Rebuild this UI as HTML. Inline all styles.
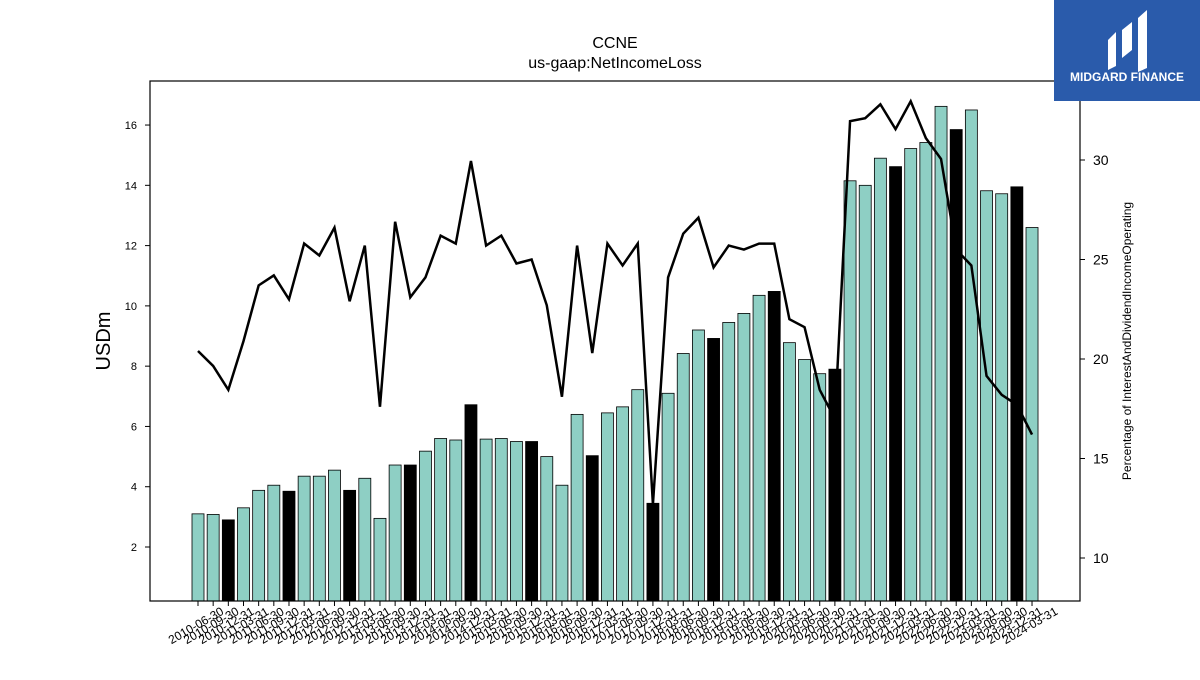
<!DOCTYPE html>
<html><head><meta charset="utf-8"><style>
body{margin:0;background:#fff;font-family:"Liberation Sans",sans-serif}
</style></head><body>
<svg id="chart" width="1200" height="675" xmlns="http://www.w3.org/2000/svg" font-family="Liberation Sans, sans-serif">
<text x="615" y="48" text-anchor="middle" font-size="16">CCNE</text>
<text x="615" y="68" text-anchor="middle" font-size="16">us-gaap:NetIncomeLoss</text>
<g id="bars"></g><g id="line"></g><g id="axes"></g>
<rect x="150" y="81" width="930" height="520" fill="none" stroke="#000" stroke-width="1.2"/>
<text transform="translate(110,341) rotate(-90)" text-anchor="middle" font-size="20">USDm</text>
<text transform="translate(1131,341) rotate(-90)" text-anchor="middle" font-size="12">Percentage of InterestAndDividendIncomeOperating</text>
<g>
<rect x="1054" y="0" width="146" height="101" fill="#2a5bab"/>
<path d="M1108 40 L1116 32 L1116 66 L1108 70 Z M1122 30 L1132 22 L1132 50 L1122 58 Z M1138 18 L1147 10 L1147 68 L1138 72 Z" fill="#fff"/>
<text x="1127" y="81" text-anchor="middle" font-size="12" font-weight="bold" fill="#fff">MIDGARD FINANCE</text>
</g>
</svg>
<script>
const dates=[];
const md=["06-30","09-30","12-31","03-31"];
for(let i=0;i<56;i++){const y=2010+Math.floor((i+1)/4);dates.push(y+"-"+md[i%4]);}
const netIncome=[3.1,3.08,2.9,3.3,3.88,4.05,3.85,4.35,4.35,4.55,3.88,4.28,2.95,4.72,4.72,5.18,5.6,5.55,6.72,5.58,5.6,5.5,5.5,5.0,4.05,6.4,5.03,6.45,6.65,7.22,3.45,7.1,8.42,9.2,8.92,9.45,9.75,10.35,10.48,8.78,8.22,7.75,7.9,14.15,14.0,14.9,14.62,15.22,15.42,16.62,15.85,16.5,13.82,13.72,13.95,12.6];
const pct=[20.4,19.65,18.45,20.9,23.7,24.2,23.0,25.8,25.2,26.6,22.9,25.7,17.6,26.9,23.1,24.1,26.2,25.8,29.95,25.7,26.2,24.8,25.0,22.7,18.1,25.7,20.3,25.8,24.7,25.8,12.7,24.1,26.3,27.1,24.6,25.7,25.5,25.8,25.8,22.0,21.6,18.45,17.0,31.95,32.1,32.8,31.55,32.95,31.1,30.05,25.5,24.7,19.15,18.2,17.7,16.2];
const leftTicks=[2,4,6,8,10,12,14,16];
const rightTicks=[10,15,20,25,30];
const NS="http://www.w3.org/2000/svg";
const yL=v=>547-(v-2)*30.14;
const yR=v=>160+(30-v)*19.9;
const xI=i=>198+i*15.164;
const bottom=601;
function mk(t,a,p){const e=document.createElementNS(NS,t);for(const k in a)e.setAttribute(k,a[k]);p.appendChild(e);return e;}
const gb=document.getElementById('bars'),gl=document.getElementById('line'),ga=document.getElementById('axes');
netIncome.forEach((v,i)=>{
 const r=mk('rect',{x:xI(i)-6,y:yL(v),width:12,height:bottom-yL(v),fill:(i%4==2)?'#000':'#8ecfc4',stroke:'#000','stroke-width':0.8},gb);
 
 
});
const pl=mk('polyline',{points:pct.map((v,i)=>xI(i)+','+yR(v)).join(' '),fill:'none',stroke:'#000','stroke-width':2.5},gl);


leftTicks.forEach(v=>{
 mk('line',{x1:145,x2:150,y1:yL(v),y2:yL(v),stroke:'#000'},ga);
 const t=mk('text',{x:137,y:yL(v)+4,'text-anchor':'end','font-size':11},ga);t.textContent=v;
 
 
});
rightTicks.forEach(v=>{
 mk('line',{x1:1080,x2:1085,y1:yR(v),y2:yR(v),stroke:'#000'},ga);
 const t=mk('text',{x:1093,y:yR(v)+5,'font-size':14},ga);t.textContent=v;
 
 
});
dates.forEach((d,i)=>{
 const x=xI(i);
 mk('line',{x1:x,x2:x,y1:601,y2:606,stroke:'#000'},ga);
 const t=mk('text',{transform:`translate(${x},${629}) rotate(-30)`,'text-anchor':'middle','font-size':12},ga);t.textContent=d;
 
 
});
</script>
</body></html>
